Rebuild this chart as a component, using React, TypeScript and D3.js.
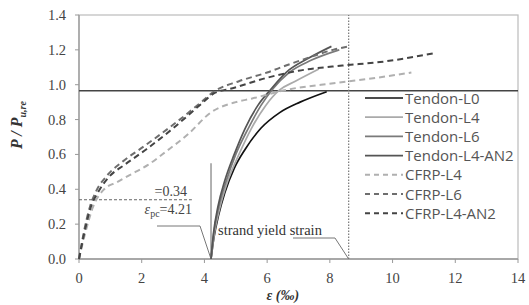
import * as d3 from "d3";

// reference lines / annotations
const capacityRatio = 0.965;
const yieldStrain = 8.6;
const prestrain = 4.21;
const prestressRatio = 0.34;

const xTicks = [0, 2, 4, 6, 8, 10, 12, 14];
const yTicks = [0, 0.2, 0.4, 0.6, 0.8, 1.0, 1.2, 1.4];

// series: [strain ‰, P/Pu,re]
const tendonL0 = [[4.21, 0], [4.3, 0.12], [4.45, 0.25], [4.65, 0.38], [4.95, 0.52], [5.3, 0.63], [5.8, 0.75], [6.4, 0.84], [7.05, 0.9], [7.9, 0.96]];
const tendonL4 = [[4.21, 0], [4.32, 0.15], [4.5, 0.3], [4.75, 0.45], [5.1, 0.6], [5.5, 0.75], [5.95, 0.88], [6.4, 0.97], [6.9, 1.02], [7.65, 1.09]];
const tendonL6 = [[4.21, 0], [4.3, 0.15], [4.46, 0.3], [4.7, 0.45], [5.0, 0.6], [5.4, 0.75], [5.8, 0.88], [6.2, 0.98], [6.7, 1.07], [7.4, 1.14], [8.3, 1.2]];
const tendonL4AN2 = [[4.21, 0], [4.29, 0.15], [4.43, 0.3], [4.65, 0.45], [4.95, 0.6], [5.3, 0.75], [5.7, 0.88], [6.1, 0.97], [6.6, 1.07], [7.3, 1.15], [8.05, 1.22]];
const cfrpL4 = [[0, 0], [0.2, 0.15], [0.45, 0.3], [0.8, 0.4], [1.2, 0.44], [1.6, 0.48], [2.2, 0.54], [2.8, 0.62], [3.5, 0.72], [4.2, 0.84], [5.0, 0.9], [5.5, 0.92], [6.6, 0.97], [8.2, 1.01], [9.5, 1.04], [10.6, 1.07]];
const cfrpL6 = [[0, 0], [0.15, 0.15], [0.35, 0.3], [0.55, 0.39], [0.9, 0.48], [1.4, 0.56], [2.1, 0.65], [3.0, 0.77], [3.9, 0.9], [4.3, 0.96], [5.1, 1.02], [6.0, 1.07], [6.6, 1.11], [7.4, 1.16], [8.1, 1.2], [8.6, 1.22]];
const cfrpL4AN2 = [[0, 0], [0.17, 0.15], [0.38, 0.3], [0.6, 0.38], [0.95, 0.47], [1.45, 0.54], [2.15, 0.63], [3.0, 0.75], [3.9, 0.89], [4.3, 0.95], [4.9, 0.98], [6.0, 1.04], [7.0, 1.08], [8.4, 1.11], [9.6, 1.13], [11.3, 1.18]];

const seriesNames = ["Tendon-L0", "Tendon-L4", "Tendon-L6", "Tendon-L4-AN2", "CFRP-L4", "CFRP-L6", "CFRP-L4-AN2"];
const seriesData = [tendonL0, tendonL4, tendonL6, tendonL4AN2, cfrpL4, cfrpL6, cfrpL4AN2];
const seriesColor = ["#111", "#aaa", "#7a7a7a", "#555", "#b0b0b0", "#6e6e6e", "#444"];
const seriesDash = [null, null, null, null, "6,4", "6,4", "6,4"];

const W = 529;
const H = 305;

export default function App() {
  const x = d3.scaleLinear().domain([0, 14]).range([79, 518]);
  const y = d3.scaleLinear().domain([0, 1.4]).range([259, 15]);
  const line = d3
    .line<number[]>()
    .x((d) => x(d[0]))
    .y((d) => y(d[1]))
    .curve(d3.curveMonotoneX);

  const serif = "'Liberation Serif', 'Times New Roman', serif";
  const sans = "'Open Sans', 'DejaVu Sans', sans-serif";
  const legendX = 365;
  const legendY0 = 98;
  const legendStep = 19.2;

  return (
    <svg width={W} height={H} style={{ position: "absolute", left: 0, top: 0, background: "#fff" }}>
      {/* frame */}
      <rect x={x(0)} y={y(1.4)} width={x(14) - x(0)} height={y(0) - y(1.4)} fill="none" stroke="#bbb" strokeWidth={1.2} />
      <line x1={x(0)} x2={x(0)} y1={y(0)} y2={y(1.4)} stroke="#999" strokeWidth={1.3} />
      <line x1={x(0)} x2={x(14)} y1={y(0)} y2={y(0)} stroke="#999" strokeWidth={1.3} />

      {/* ticks */}
      {yTicks.map((t) => (
        <g key={"y" + t}>
          <line x1={x(0) - 4} x2={x(0)} y1={y(t)} y2={y(t)} stroke="#999" />
          <text x={66} y={y(t) + 5} textAnchor="end" fontFamily={serif} fontSize={14.5} fill="#444">
            {t.toFixed(1)}
          </text>
        </g>
      ))}
      {xTicks.map((t) => (
        <g key={"x" + t}>
          <line x1={x(t)} x2={x(t)} y1={y(0)} y2={y(0) + 4} stroke="#999" />
          <text x={x(t)} y={283} textAnchor="middle" fontFamily={serif} fontSize={14.5} fill="#444">
            {t}
          </text>
        </g>
      ))}

      {/* axis titles */}
      <text x={x(6.5)} y={300} textAnchor="middle" fontFamily={serif} fontSize={14} fontWeight="bold" fontStyle="italic" fill="#333">
        ε (‰)
      </text>
      <text transform="translate(22,125) rotate(-90)" textAnchor="middle" fontFamily={serif} fontSize={16} fontWeight="bold" fontStyle="italic" fill="#333">
        P / P<tspan fontSize={10} dy={4}>u,re</tspan>
      </text>

      {/* reference lines */}
      <line x1={x(0)} x2={x(14)} y1={y(capacityRatio)} y2={y(capacityRatio)} stroke="#444" strokeWidth={1.5} />
      <line x1={x(yieldStrain)} x2={x(yieldStrain)} y1={y(0)} y2={y(1.4)} stroke="#777" strokeWidth={1.2} strokeDasharray="1.5,1.5" />
      <line x1={x(prestrain)} x2={x(prestrain)} y1={y(0)} y2={y(0.55)} stroke="#888" strokeWidth={1.3} />
      <line x1={x(0)} x2={x(3.6)} y1={y(prestressRatio)} y2={y(prestressRatio)} stroke="#666" strokeWidth={1} strokeDasharray="3,2" />

      {/* annotations */}
      <text x={187} y={196} textAnchor="end" fontFamily={serif} fontSize={14} fill="#444">=0.34</text>
      <text x={192} y={214} textAnchor="end" fontFamily={serif} fontSize={14} fill="#444">
        <tspan fontStyle="italic">ε</tspan>
        <tspan fontSize={10} dy={3}>pc</tspan>
        <tspan dy={-3}>=4.21</tspan>
      </text>
      <polyline points={`157,226 200,226 ${x(prestrain)},${y(0)}`} fill="none" stroke="#777" strokeWidth={1} />
      <text x={218} y={235} fontFamily={serif} fontSize={14.5} fill="#333">strand yield strain</text>
      <polyline points={`293,238 335,238 ${x(yieldStrain)},${y(0)}`} fill="none" stroke="#777" strokeWidth={1} />

      {/* series */}
      {seriesData.map((s, i) => (
        <path
          key={seriesNames[i]}
          d={line(s) || ""}
          fill="none"
          stroke={seriesColor[i]}
          strokeWidth={i >= 4 ? 2 : 1.7}
          strokeDasharray={seriesDash[i] || undefined}
        />
      ))}

      {/* legend */}
      {seriesNames.map((n, i) => {
        const ly = legendY0 + i * legendStep;
        return (
          <g key={"lg" + n}>
            <line x1={legendX} x2={legendX + 38} y1={ly} y2={ly} stroke={seriesColor[i]} strokeWidth={i >= 4 ? 2 : 1.7} strokeDasharray={seriesDash[i] ? "5,4" : undefined} />
            <text x={legendX + 40} y={ly + 5.5} fontFamily={sans} fontSize={15} fill="#555">
              {n}
            </text>
          </g>
        );
      })}
    </svg>
  );
}
